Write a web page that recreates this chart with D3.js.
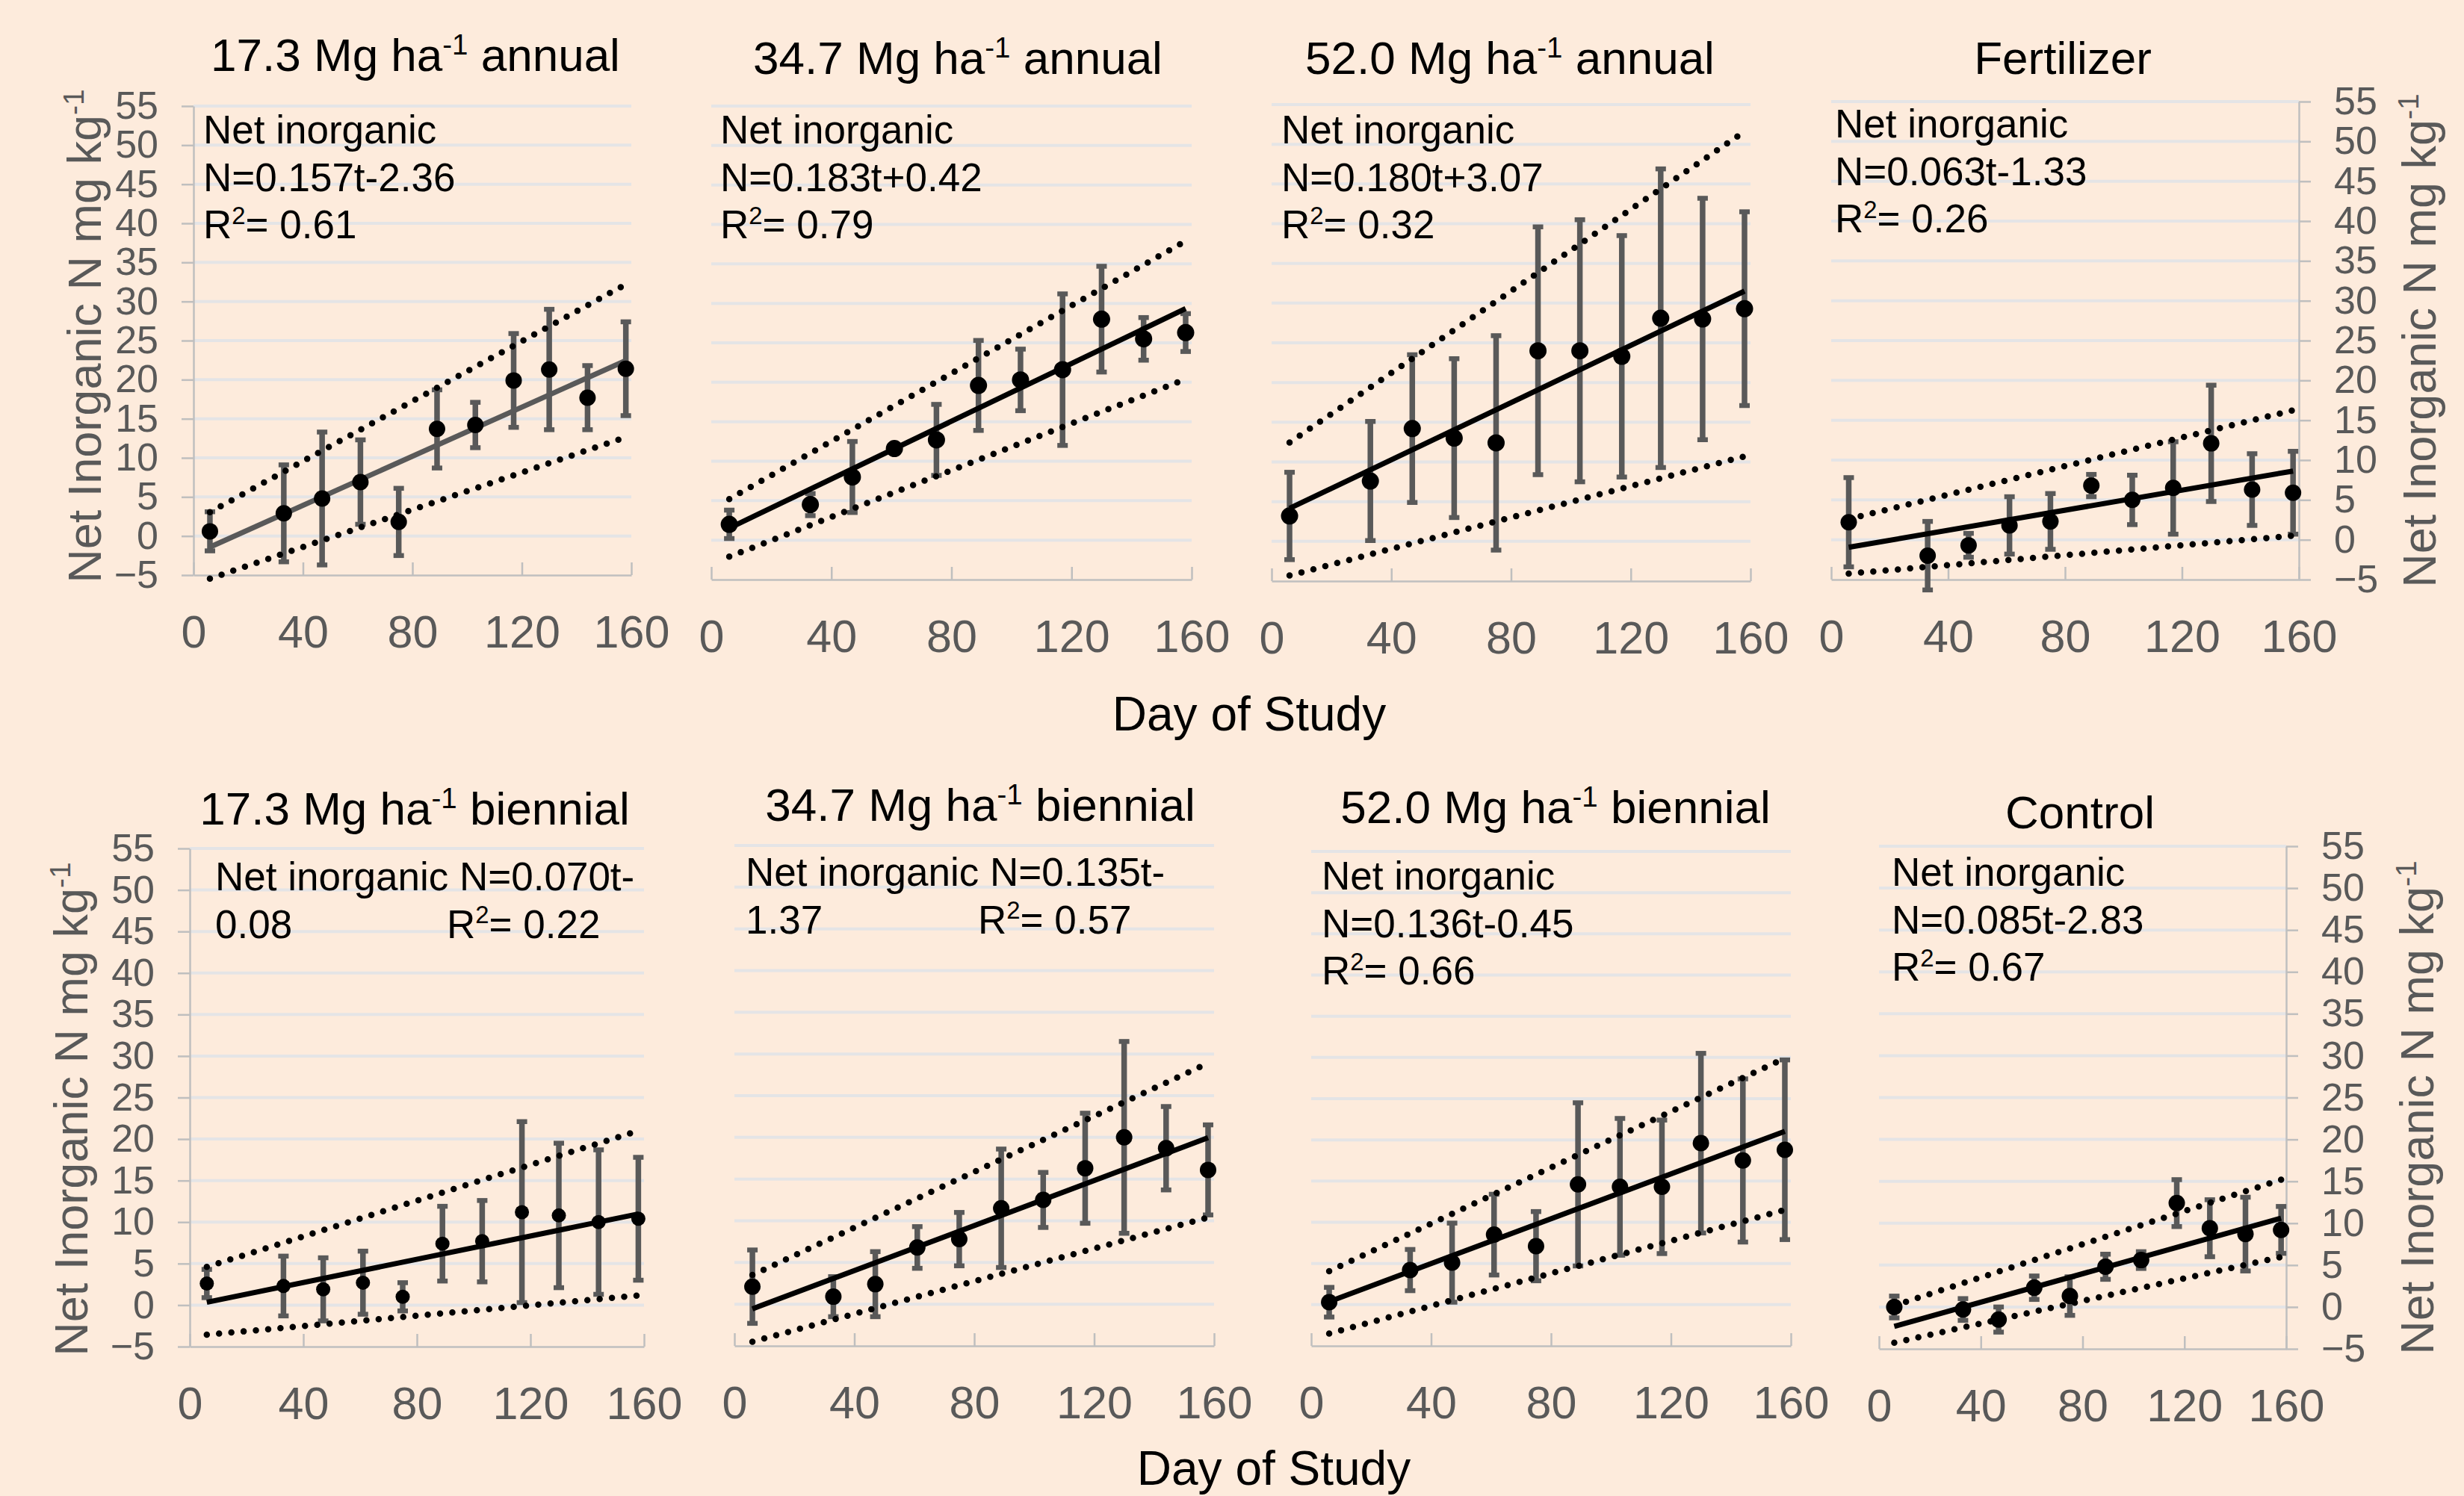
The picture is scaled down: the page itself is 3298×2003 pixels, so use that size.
<!DOCTYPE html>
<html>
<head>
<meta charset="utf-8">
<script src="https://cdn.jsdelivr.net/npm/d3@7"></script>
<style>
  html, body { margin: 0; padding: 0; background: #FDEBDC; }
  svg { display: block; font-family: "Liberation Sans", Arial, sans-serif; }
</style>
</head>
<body>
<div id="chart"></div>
<script>
// sampling days and axis ticks
const days = [6, 33, 47, 61, 75, 89, 103, 117, 130, 144, 158];
const xTicks = [0, 40, 80, 120, 160];
const yTicks = [-5, 0, 5, 10, 15, 20, 25, 30, 35, 40, 45, 50, 55];

const titles = ["17.3 Mg ha^-1^ annual", "34.7 Mg ha^-1^ annual", "52.0 Mg ha^-1^ annual", "Fertilizer",
                "17.3 Mg ha^-1^ biennial", "34.7 Mg ha^-1^ biennial", "52.0 Mg ha^-1^ biennial", "Control"];
const equations = ["N=0.157t-2.36", "N=0.183t+0.42", "N=0.180t+3.07", "N=0.063t-1.33",
                   "N=0.070t-0.08", "N=0.135t-1.37", "N=0.136t-0.45", "N=0.085t-2.83"];
const r2 = ["0.61", "0.79", "0.32", "0.26", "0.22", "0.57", "0.66", "0.67"];
const slopes = [0.157, 0.183, 0.180, 0.063, 0.070, 0.135, 0.136, 0.085];
const intercepts = [-2.36, 0.42, 3.07, -1.33, -0.08, -1.37, -0.45, -2.83];

// means and error (+/-) per treatment
const mean1 = [0.6, 2.9, 4.8, 6.9, 1.8, 13.7, 14.2, 19.9, 21.3, 17.7, 21.4];
const err1  = [2.5, 6.2, 8.5, 5.4, 4.3, 5.0, 2.9, 6.0, 7.7, 4.1, 6.0];
const mean2 = [2.0, 4.5, 8.0, 11.6, 12.7, 19.6, 20.3, 21.6, 28.0, 25.5, 26.3];
const err2  = [1.8, 1.4, 4.5, 0.4, 4.5, 5.7, 3.9, 9.6, 6.7, 2.7, 2.4];
const mean3 = [3.2, 7.6, 14.2, 13.0, 12.4, 24.0, 24.0, 23.3, 28.1, 28.0, 29.3];
const err3  = [5.5, 7.5, 9.3, 10.0, 13.5, 15.6, 16.5, 15.2, 18.8, 15.2, 12.2];
const mean4 = [2.2, -2.0, -0.7, 1.8, 2.3, 6.8, 5.0, 6.5, 12.1, 6.3, 5.9];
const err4  = [5.6, 4.3, 1.5, 3.6, 3.5, 1.4, 3.1, 5.8, 7.3, 4.5, 5.2];
const mean5 = [2.6, 2.3, 1.9, 2.7, 1.0, 7.4, 7.7, 11.2, 10.8, 10.0, 10.4];
const err5  = [1.7, 3.6, 3.8, 3.8, 1.7, 4.5, 4.9, 10.9, 8.7, 8.7, 7.4];
const mean6 = [2.1, 0.9, 2.4, 6.8, 7.8, 11.5, 12.5, 16.3, 20.0, 18.7, 16.1];
const err6  = [4.4, 2.4, 3.9, 2.5, 3.2, 7.1, 3.3, 6.6, 11.5, 5.0, 5.4];
const mean7 = [0.3, 4.2, 5.1, 8.5, 7.1, 14.6, 14.3, 14.3, 19.6, 17.5, 18.8];
const err7  = [1.8, 2.5, 4.8, 4.9, 4.2, 9.9, 8.3, 8.1, 10.9, 9.9, 10.9];
const mean8 = [0.0, -0.3, -1.5, 2.3, 1.3, 4.8, 5.6, 12.4, 9.4, 8.7, 9.2];
const err8  = [1.3, 1.3, 1.5, 1.4, 2.3, 1.5, 1.0, 2.8, 3.4, 4.4, 2.8];

// dotted band values at first and last day
const upperStart = [3.05, 5.2, 12.45, 2.6, 4.6, 3.5, 4.06, 0.17];
const upperEnd   = [32.2, 37.9, 51.6, 16.25, 21.0, 28.9, 29.9, 15.2];
const lowerStart = [-5.45, -2.1, -4.3, -4.25, -3.57, -4.5, -3.5, -4.26];
const lowerEnd   = [12.65, 20.4, 10.7, 0.5, 1.15, 10.4, 11.5, 5.97];

const means = [mean1, mean2, mean3, mean4, mean5, mean6, mean7, mean8];
const errs = [err1, err2, err3, err4, err5, err6, err7, err8];

// panel placement
const layout = [
  {x0: 259, x1: 845, yt: 142, yb: 770, axis: "left", tx: 556, ty: 95, ex: 272, ey: 192, r: 11},
  {x0: 952, x1: 1595, yt: 142, yb: 776, axis: null, tx: 1282, ty: 99, ex: 964, ey: 192, r: 11.5},
  {x0: 1702, x1: 2343, yt: 140, yb: 778, axis: null, tx: 2021, ty: 99, ex: 1715, ey: 192, r: 11.5},
  {x0: 2451, x1: 3077, yt: 136, yb: 776, axis: "right", tx: 2761, ty: 99, ex: 2456, ey: 184, r: 11},
  {x0: 254, x1: 862, yt: 1136, yb: 1803, axis: "left", tx: 555, ty: 1104, ex: 288, ey: 1192, r: 9.5, wrap: true, r2x: 598},
  {x0: 983, x1: 1625, yt: 1132, yb: 1802, axis: null, tx: 1312, ty: 1099, ex: 998, ey: 1186, r: 11, wrap: true, r2x: 1309},
  {x0: 1755, x1: 2397, yt: 1140, yb: 1802, axis: null, tx: 2082, ty: 1102, ex: 1769, ey: 1191, r: 11},
  {x0: 2515, x1: 3060, yt: 1133, yb: 1806, axis: "right", tx: 2784, ty: 1109, ex: 2532, ey: 1186, r: 11}
];

const W = 3298, H = 2003;
const grey = "#595959";

const svg = d3.select("#chart").append("svg")
  .attr("width", W).attr("height", H);

svg.append("rect").attr("width", W).attr("height", H).attr("fill", "#FDEBDC");

// text with ^superscript^ parts
function richText(sel, str, fs) {
  const parts = str.split("^");
  parts.forEach((p, i) => {
    if (p === "") return;
    const sup = i % 2 === 1;
    sel.append("tspan")
      .attr("font-size", sup ? fs * 0.62 : fs)
      .attr("dy", sup ? -fs * 0.36 : (i > 0 ? fs * 0.36 : 0))
      .text(p);
  });
}

layout.forEach((L, k) => {
  const g = svg.append("g");
  const x = d3.scaleLinear().domain([0, 160]).range([L.x0, L.x1]);
  const y = d3.scaleLinear().domain([-5, 55]).range([L.yb, L.yt]);

  // gridlines
  g.append("g").selectAll("line")
    .data(yTicks.filter(v => v > -5))
    .enter().append("line")
    .attr("x1", L.x0).attr("x2", L.x1)
    .attr("y1", d => y(d)).attr("y2", d => y(d))
    .attr("stroke", "#E4E4E6").attr("stroke-width", 4);

  // x axis
  const xa = g.append("g")
    .attr("transform", `translate(0,${L.yb})`)
    .call(d3.axisBottom(x).tickValues(xTicks).tickSizeInner(-17).tickSizeOuter(0).tickPadding(54));
  xa.select(".domain").attr("stroke", "#BFBFBF").attr("stroke-width", 2.5);
  xa.selectAll(".tick line").attr("stroke", "#BFBFBF").attr("stroke-width", 2.5);
  xa.selectAll(".tick text").attr("fill", grey).attr("font-size", 61)
    .attr("font-family", "Liberation Sans, Arial, sans-serif");

  // y axis
  if (L.axis) {
    const ax = L.axis === "left" ? d3.axisLeft(y) : d3.axisRight(y);
    const ya = g.append("g")
      .attr("transform", `translate(${L.axis === "left" ? L.x0 : L.x1},0)`)
      .call(ax.tickValues(yTicks).tickSizeInner(16).tickSizeOuter(0).tickPadding(31));
    ya.select(".domain").attr("stroke", "#BFBFBF").attr("stroke-width", 2.5);
    ya.selectAll(".tick line").attr("stroke", "#BFBFBF").attr("stroke-width", 2.5);
    ya.selectAll(".tick text").attr("fill", grey).attr("font-size", 52)
      .attr("font-family", "Liberation Sans, Arial, sans-serif");
  }

  const pts = days.map((d, i) => ({day: d, v: means[k][i], e: errs[k][i]}));

  // error bars
  const eb = g.append("g").selectAll("g").data(pts).enter().append("g");
  eb.append("line")
    .attr("x1", d => x(d.day)).attr("x2", d => x(d.day))
    .attr("y1", d => y(d.v + d.e)).attr("y2", d => y(d.v - d.e))
    .attr("stroke", grey).attr("stroke-width", 7.5);
  eb.selectAll("line.cap")
    .data(d => [d.v + d.e, d.v - d.e].map(v => ({day: d.day, v: v})))
    .enter().append("line").attr("class", "cap")
    .attr("x1", d => x(d.day) - 7).attr("x2", d => x(d.day) + 7)
    .attr("y1", d => y(d.v)).attr("y2", d => y(d.v))
    .attr("stroke", grey).attr("stroke-width", 6.5);

  // dotted bands
  const line = d3.line().x(d => x(d[0])).y(d => y(d[1]));
  const first = days[0], last = days[days.length - 1];
  [[[first, upperStart[k]], [last, upperEnd[k]]], [[first, lowerStart[k]], [last, lowerEnd[k]]]]
    .forEach(b => {
      g.append("path").datum(b).attr("d", line)
        .attr("fill", "none").attr("stroke", "#000").attr("stroke-width", 8.5)
        .attr("stroke-linecap", "round").attr("stroke-dasharray", "0 16.5");
    });

  // trend line
  g.append("path")
    .datum([first, last].map(t => [t, slopes[k] * t + intercepts[k]]))
    .attr("d", line)
    .attr("fill", "none")
    .attr("stroke", k === 0 ? grey : "#000")
    .attr("stroke-width", 7);

  // points
  g.append("g").selectAll("circle").data(pts).enter().append("circle")
    .attr("cx", d => x(d.day)).attr("cy", d => y(d.v)).attr("r", L.r)
    .attr("fill", "#000");

  // title
  const t = g.append("text").attr("x", L.tx).attr("y", L.ty)
    .attr("text-anchor", "middle").attr("fill", "#000");
  richText(t, titles[k], 62);

  // regression text
  const fs = 53, lh = 63.5;
  const tt = (txt, tx, ty) => {
    const el = g.append("text").attr("x", tx).attr("y", ty).attr("fill", "#000");
    richText(el, txt, fs);
  };
  if (L.wrap) {
    const cut = equations[k].lastIndexOf("-") + 1;
    tt("Net inorganic " + equations[k].slice(0, cut), L.ex, L.ey);
    tt(equations[k].slice(cut), L.ex, L.ey + lh);
    tt("R^2^= " + r2[k], L.r2x, L.ey + lh);
  } else {
    tt("Net inorganic", L.ex, L.ey);
    tt(equations[k], L.ex, L.ey + lh);
    tt("R^2^= " + r2[k], L.ex, L.ey + 2 * lh);
  }
});

// axis titles
const yTitles = [[135, 450], [3260, 456], [117, 1485], [3257, 1483]];
yTitles.forEach(p => {
  const el = svg.append("text")
    .attr("transform", `translate(${p[0]},${p[1]}) rotate(-90)`)
    .attr("text-anchor", "middle").attr("fill", grey);
  richText(el, "Net Inorganic N mg kg^-1^", 63);
});

svg.append("text").attr("x", 1672).attr("y", 978).attr("text-anchor", "middle")
  .attr("font-size", 64).attr("fill", "#000").text("Day of Study");
svg.append("text").attr("x", 1705).attr("y", 1988).attr("text-anchor", "middle")
  .attr("font-size", 64).attr("fill", "#000").text("Day of Study");
</script>
</body>
</html>
